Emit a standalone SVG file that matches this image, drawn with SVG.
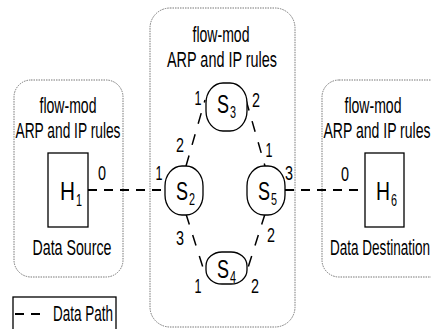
<svg xmlns="http://www.w3.org/2000/svg" width="431" height="329" viewBox="0 0 431 329">
<style>
text{font-family:"Liberation Sans Narrow","Liberation Sans",Arial,sans-serif;fill:#000}
.t{font-size:22px;text-anchor:middle}
.d{font-size:21px;text-anchor:middle}
.n{font-size:26px}
.s{font-size:16px}
.region{fill:none;stroke:#777;stroke-width:1;stroke-dasharray:1.5 1}
.node{fill:#fff;stroke:#000;stroke-width:1.3}
.host{fill:#fff;stroke:#000;stroke-width:1.3}
.path{stroke:#000;stroke-width:2.2;stroke-dasharray:9 7;fill:none}
.link{stroke:#000;stroke-width:1.5;stroke-dasharray:11 11;fill:none}
</style>
<rect width="431" height="329" fill="#fff"/>
<g id="region-left">
<rect class="region" x="14" y="80" width="109" height="197" rx="17"/>
<text class="t" x="68" y="113" textLength="57" lengthAdjust="spacingAndGlyphs">flow-mod</text>
<text class="t" x="68" y="138" textLength="105" lengthAdjust="spacingAndGlyphs">ARP and IP rules</text>
<text class="t" x="72" y="255" textLength="79" lengthAdjust="spacingAndGlyphs">Data Source</text>
</g>
<g id="region-middle">
<rect class="region" x="150" y="8" width="145" height="319" rx="20"/>
<text class="t" x="221" y="42" textLength="57" lengthAdjust="spacingAndGlyphs">flow-mod</text>
<text class="t" x="222" y="67" textLength="110" lengthAdjust="spacingAndGlyphs">ARP and IP rules</text>
</g>
<g id="region-right">
<rect class="region" x="322" y="80" width="130" height="197" rx="17"/>
<text class="t" x="373" y="113" textLength="57" lengthAdjust="spacingAndGlyphs">flow-mod</text>
<text class="t" x="377" y="138" textLength="107" lengthAdjust="spacingAndGlyphs">ARP and IP rules</text>
<text class="t" x="380" y="255" textLength="100" lengthAdjust="spacingAndGlyphs">Data Destination</text>
</g>
<g id="connectors">
<line class="path" x1="88" y1="190" x2="165" y2="190"/>
<line class="path" x1="285" y1="190" x2="365" y2="190"/>
<line class="link" x1="186" y1="166" x2="205" y2="100"/>
<line class="link" x1="246" y1="100" x2="265" y2="166"/>
<line class="link" x1="186" y1="214" x2="206" y2="277"/>
<line class="link" x1="265" y1="214" x2="245" y2="277"/>
<text class="d" x="102" y="180" textLength="8" lengthAdjust="spacingAndGlyphs">0</text>
<text class="d" x="159" y="180" textLength="7" lengthAdjust="spacingAndGlyphs">1</text>
<text class="d" x="180" y="152" textLength="8" lengthAdjust="spacingAndGlyphs">2</text>
<text class="d" x="198" y="105" textLength="7" lengthAdjust="spacingAndGlyphs">1</text>
<text class="d" x="256" y="107" textLength="8" lengthAdjust="spacingAndGlyphs">2</text>
<text class="d" x="269" y="157" textLength="7" lengthAdjust="spacingAndGlyphs">1</text>
<text class="d" x="289" y="180" textLength="8" lengthAdjust="spacingAndGlyphs">3</text>
<text class="d" x="345" y="181" textLength="8" lengthAdjust="spacingAndGlyphs">0</text>
<text class="d" x="180" y="245" textLength="8" lengthAdjust="spacingAndGlyphs">3</text>
<text class="d" x="271" y="242" textLength="8" lengthAdjust="spacingAndGlyphs">2</text>
<text class="d" x="198" y="293" textLength="7" lengthAdjust="spacingAndGlyphs">1</text>
<text class="d" x="255" y="293" textLength="8" lengthAdjust="spacingAndGlyphs">2</text>
</g>
<g id="H1">
<rect class="host" x="48" y="153" width="40" height="74"/>
<text class="n" x="60" y="200" textLength="15" lengthAdjust="spacingAndGlyphs">H</text>
<text class="s" x="76" y="206" textLength="6" lengthAdjust="spacingAndGlyphs">1</text>
</g>
<g id="H6">
<rect class="host" x="365" y="153" width="39" height="74"/>
<text class="n" x="376" y="200" textLength="14" lengthAdjust="spacingAndGlyphs">H</text>
<text class="s" x="391" y="206" textLength="6" lengthAdjust="spacingAndGlyphs">6</text>
</g>
<g id="S2">
<rect class="node" x="165" y="166" width="38" height="49" rx="17" ry="20"/>
<text class="n" x="176" y="200" textLength="12" lengthAdjust="spacingAndGlyphs">S</text>
<text class="s" x="189" y="205" textLength="6" lengthAdjust="spacingAndGlyphs">2</text>
</g>
<g id="S5">
<rect class="node" x="247" y="166" width="38" height="49" rx="17" ry="20"/>
<text class="n" x="258" y="200" textLength="12" lengthAdjust="spacingAndGlyphs">S</text>
<text class="s" x="271" y="205" textLength="6" lengthAdjust="spacingAndGlyphs">5</text>
</g>
<g id="S3">
<rect class="node" x="206" y="83" width="41" height="48" rx="17" ry="20"/>
<text class="n" x="217" y="113" textLength="12" lengthAdjust="spacingAndGlyphs">S</text>
<text class="s" x="230" y="118" textLength="6" lengthAdjust="spacingAndGlyphs">3</text>
</g>
<g id="S4">
<rect class="node" x="206" y="252" width="41" height="32" rx="16" ry="14"/>
<text class="n" x="217" y="278" textLength="12" lengthAdjust="spacingAndGlyphs">S</text>
<text class="s" x="230" y="283" textLength="6" lengthAdjust="spacingAndGlyphs">4</text>
</g>
<g id="legend">
<rect x="13" y="297" width="103" height="45" fill="none" stroke="#000" stroke-width="1.3"/>
<line class="path" x1="15" y1="314" x2="45" y2="314" stroke-dasharray="10 8"/>
<text class="t" x="83" y="321" textLength="60" lengthAdjust="spacingAndGlyphs">Data Path</text>
</g>
</svg>
